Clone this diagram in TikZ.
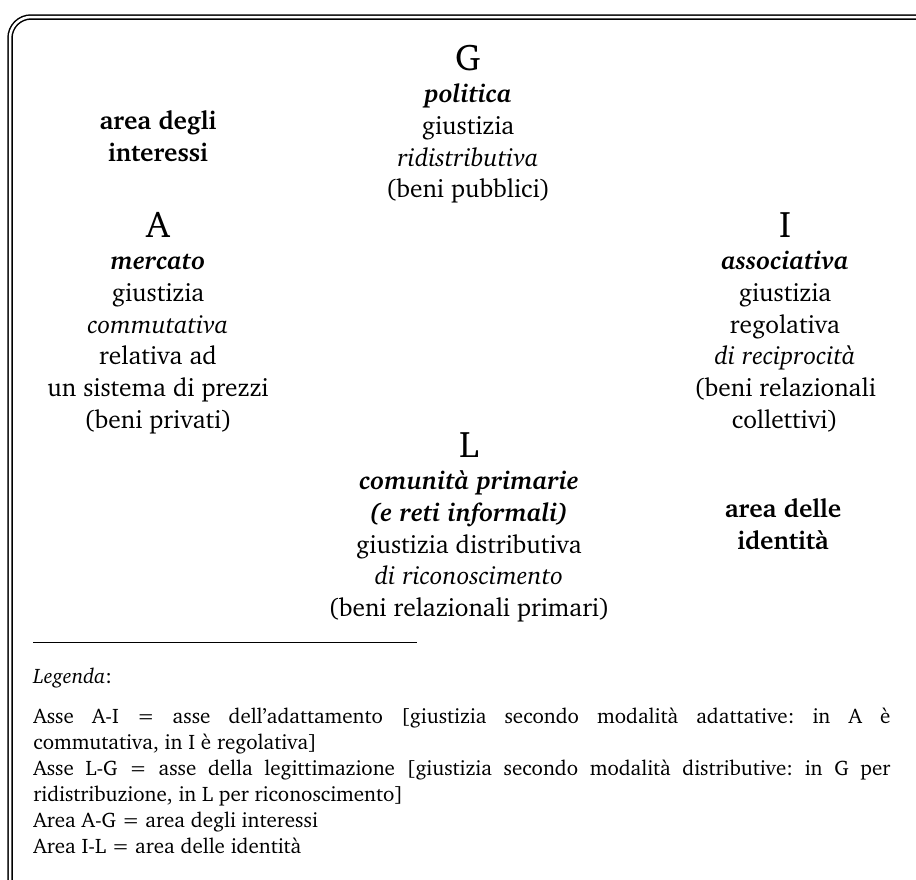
\documentclass[tikz,border=0pt]{standalone}
\usepackage[T1]{fontenc}
\usepackage{charter}
\usetikzlibrary{positioning}

\newcommand\capsize{\fontsize{18.5}{15.9}\selectfont}
\newcommand\midsize{\fontsize{12.7}{15.9}\selectfont}
\newcommand\legsize{\fontsize{10.5}{13}\selectfont\frenchspacing}

\begin{document}
\begin{tikzpicture}[x=0.5pt,y=-0.5pt,blk/.style={align=center,inner sep=0pt,font=\midsize},area/.style={blk,font=\midsize\bfseries},node distance=5mm]
    \clip (0,0) rectangle (916,879);
    \draw[double,line width=0.75pt,double distance=1.25pt,rounded corners=10.5pt] (10,17) rectangle (936,900);
    % the four poles
    \node(gp)[blk,anchor=north] at (468,45) {{\capsize G}\\ \textbf{\textit{politica}}\\ giustizia\\ \textit{ridistributiva}\\ (beni pubblici)};
    \node(am)[blk,anchor=north] at (158,212) {{\capsize A}\\ \textbf{\textit{mercato}}\\ giustizia\\ \textit{commutativa}\\ relativa ad\\ un sistema di prezzi\\ (beni privati)};
    \node(ia)[blk,anchor=north] at (785,212) {{\capsize I}\\ \textbf{\textit{associativa}}\\ giustizia\\ regolativa\\ \textit{di reciprocit\`a}\\ (beni relazionali\\ collettivi)};
    \node(lc)[blk,anchor=north] at (469,432) {{\capsize L}\\ \textbf{\textit{comunit\`a primarie}}\\ \textbf{\textit{(e reti informali)}}\\ giustizia distributiva\\ \textit{di riconoscimento}\\ (beni relazionali primari)};
    \node(ai)[area,anchor=north] at (158,110) {area degli\\ interessi};
    \node(at)[area,anchor=north] at (783,498) {area delle\\ identit\`a};
    % legend
    \draw[line width=0.5pt] (33,642) -- (417,642);
    \node(lg)[inner sep=0pt,anchor=base west,font=\legsize] at (33,683) {\textit{Legenda}:};
    \node(tx)[inner sep=0pt,anchor=north west,font=\legsize,text width=428.5pt,align=justify] at (33,708) {Asse A-I = asse dell'adattamento [giustizia secondo modalit\`a adattative: in A \`e\linebreak commutativa, in I \`e regolativa]\\ Asse L-G = asse della legittimazione [giustizia secondo modalit\`a distributive: in G per\linebreak ridistribuzione, in L per riconoscimento]\\ Area A-G = area degli interessi\\ Area I-L = area delle identit\`a};
\end{tikzpicture}
\end{document}
